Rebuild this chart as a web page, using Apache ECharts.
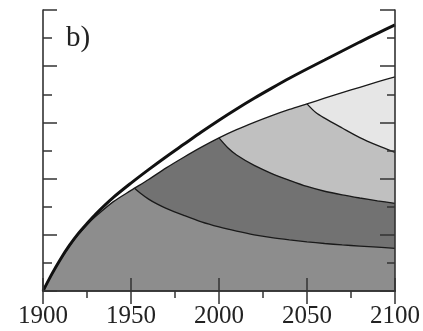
<!DOCTYPE html>
<html>
<head>
<meta charset="utf-8">
<script src="https://cdn.jsdelivr.net/npm/echarts@6/dist/echarts.min.js"></script>
<style>
  html, body { margin: 0; padding: 0; background: #fff; }
  #chart { width: 423px; height: 331px; }
</style>
</head>
<body>
<div id="chart"></div>
<script>
// outer thick curve
const outerCurve = [
  [1900, 0], [1905, 0.6], [1910, 1.14], [1915, 1.62], [1920, 2.04], [1925, 2.4],
  [1930, 2.74], [1940, 3.33], [1950, 3.84], [1960, 4.32], [1970, 4.78], [1980, 5.22],
  [1990, 5.66], [2000, 6.08], [2010, 6.48], [2020, 6.86], [2030, 7.22], [2040, 7.57],
  [2050, 7.9], [2060, 8.22], [2070, 8.54], [2080, 8.86], [2090, 9.17], [2100, 9.47]
];
// upper edge of the shaded area
const boundary = [
  [1900, 0], [1905, 0.58], [1910, 1.12], [1915, 1.6], [1920, 2.01], [1925, 2.36],
  [1930, 2.66], [1940, 3.18], [1950, 3.58], [1960, 3.97], [1970, 4.38], [1980, 4.76],
  [1990, 5.12], [2000, 5.45], [2010, 5.74], [2020, 6.0], [2030, 6.24], [2040, 6.46],
  [2050, 6.66], [2060, 6.86], [2070, 7.06], [2080, 7.25], [2090, 7.44], [2100, 7.62]
];
const cohort1950 = [
  [1952, 3.66], [1955, 3.5], [1960, 3.27], [1965, 3.09], [1970, 2.94], [1980, 2.69],
  [1990, 2.46], [2000, 2.28], [2010, 2.13], [2020, 2.0], [2030, 1.9], [2040, 1.82],
  [2050, 1.75], [2060, 1.69], [2070, 1.64], [2080, 1.6], [2090, 1.56], [2100, 1.52]
];
const cohort2000 = [
  [2000, 5.45], [2005, 5.1], [2010, 4.84], [2020, 4.47], [2030, 4.18], [2040, 3.94],
  [2050, 3.72], [2060, 3.55], [2070, 3.42], [2080, 3.31], [2090, 3.21], [2100, 3.12]
];
const cohort2050 = [
  [2050, 6.66], [2055, 6.35], [2060, 6.15], [2070, 5.8], [2080, 5.46], [2090, 5.18],
  [2100, 4.93]
];
const xTicks = ['1900', '1950', '2000', '2050', '2100'];

// boundary up to the cohort start, then the cohort curve
function joined(cohort) {
  const start = cohort[0][0];
  return boundary.filter(p => p[0] < start).concat(cohort);
}

const chart = echarts.init(document.getElementById('chart'));

const lineCol = '#1a1a1a';
const tickStyle = { color: '#333', width: 1.5 };

// fills only, sharp corners at the joins
function area(name, data, fill, z) {
  return {
    name: name, type: 'line', data: data, symbol: 'none', smooth: false, z: z,
    lineStyle: { width: 0 },
    areaStyle: { color: fill, opacity: 1, origin: 'start' }
  };
}
// the thin outlines on top
function edge(name, data, w) {
  return {
    name: name, type: 'line', data: data, symbol: 'none', smooth: 0.3, z: 7,
    lineStyle: { color: lineCol, width: w }
  };
}

chart.setOption({
  animation: false,
  grid: { left: 43, right: 27, top: 10, bottom: 40 },
  xAxis: [
    {
      type: 'value', position: 'bottom', min: 1900, max: 2100, interval: 50, z: 10,
      axisLine: { show: true, lineStyle: { color: '#333', width: 1.6 } },
      axisTick: { show: true, inside: true, length: 13, lineStyle: tickStyle },
      minorTick: { show: false },
      splitLine: { show: false },
      axisLabel: {
        show: true, margin: 13, color: '#222',
        fontFamily: 'Liberation Serif', fontSize: 25,
        formatter: v => xTicks.indexOf(String(v)) >= 0 ? String(v) : ''
      }
    },
    {
      type: 'value', position: 'top', min: 1900, max: 2100, interval: 50, z: 10,
      axisLine: { show: true, lineStyle: { color: '#333', width: 1.6 } },
      axisTick: { show: true, inside: true, length: 13, lineStyle: tickStyle },
      minorTick: { show: true, splitNumber: 2, length: 7, lineStyle: tickStyle },
      splitLine: { show: false },
      axisLabel: { show: false }
    }
  ],
  yAxis: [
    {
      type: 'value', position: 'left', min: 0, max: 10, interval: 2, z: 10,
      axisLine: { show: true, lineStyle: { color: '#333', width: 1.6 } },
      axisTick: { show: true, inside: true, length: 14, lineStyle: tickStyle },
      minorTick: { show: true, splitNumber: 2, length: 9, lineStyle: tickStyle },
      splitLine: { show: false },
      axisLabel: { show: false }
    },
    {
      type: 'value', position: 'right', min: 0, max: 10, interval: 2, z: 10,
      axisLine: { show: true, lineStyle: { color: '#333', width: 1.6 } },
      axisTick: { show: true, inside: true, length: 15, lineStyle: tickStyle },
      minorTick: { show: true, splitNumber: 2, length: 8, lineStyle: tickStyle },
      splitLine: { show: false },
      axisLabel: { show: false }
    }
  ],
  graphic: [{
    type: 'text', left: 66, top: 24, z: 20,
    style: { text: 'b)', fontFamily: 'Liberation Serif', fontSize: 29, fill: '#222' }
  }],
  series: [
    area('all', boundary, '#e6e6e6', 2),
    area('2050', joined(cohort2050), '#c0c0c0', 3),
    area('2000', joined(cohort2000), '#727272', 4),
    area('1950', joined(cohort1950), '#8d8d8d', 5),
    edge('boundary', boundary, 1.3),
    edge('c1950', cohort1950, 1.3),
    edge('c2000', cohort2000, 1.3),
    edge('c2050', cohort2050, 1.3),
    {
      name: 'outer', type: 'line', data: outerCurve, symbol: 'none', smooth: 0.3, z: 8,
      lineStyle: { color: '#111', width: 3 }
    }
  ]
});
</script>
</body>
</html>
